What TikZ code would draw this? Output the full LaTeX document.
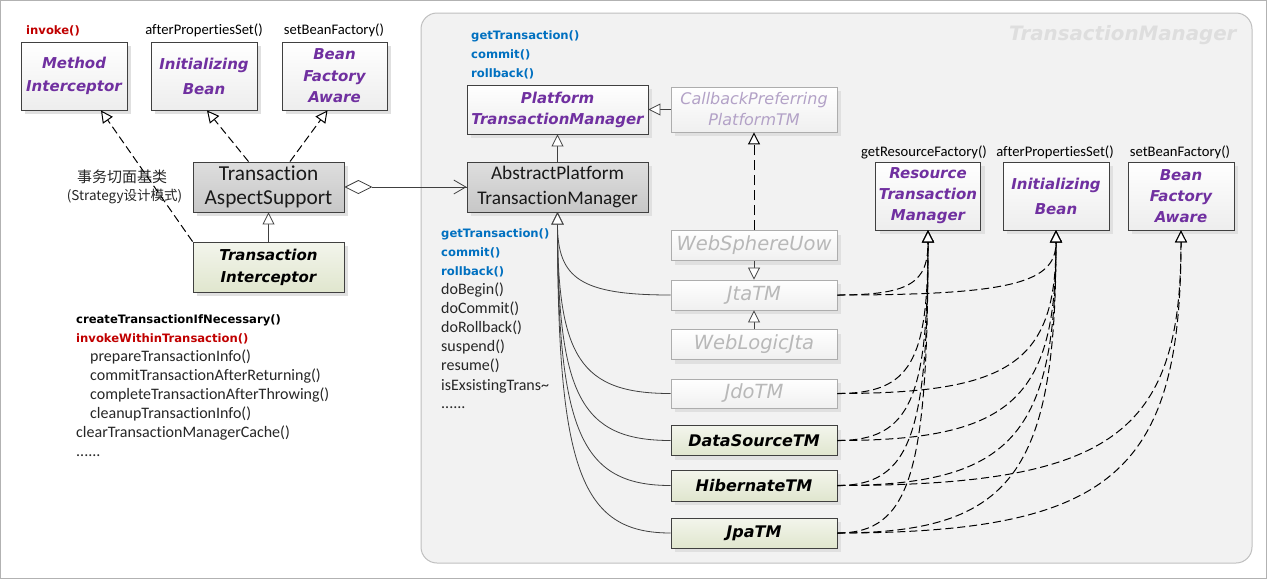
\documentclass[tikz,border=0pt]{standalone}
\usepackage{fontspec}
\setmainfont[Ligatures={NoCommon}]{Carlito}
\newfontfamily\dv{DejaVu Sans}
\newfontfamily\cjk{Noto Sans CJK SC}
\usetikzlibrary{arrows.meta,shadows}
\definecolor{purp}{HTML}{7030A0}
\definecolor{lpurp}{HTML}{B3A2C7}
\definecolor{mblue}{HTML}{0070C0}
\definecolor{mred}{HTML}{C00000}
\definecolor{boxdark}{HTML}{404040}
\definecolor{greentop}{HTML}{F3F5EC}
\definecolor{greenbot}{HTML}{E0E6CE}
\tikzset{
  box/.style={draw=boxdark, line width=0.9pt, align=center, inner sep=0pt,
    drop shadow={shadow xshift=4pt, shadow yshift=-4pt, fill=black!12, opacity=1}},
  whitebox/.style={box, top color=white, bottom color=black!7},
  graybox/.style={box, top color=black!13, bottom color=black!22},
  greenbox/.style={box, top color=greentop, bottom color=greenbot},
  lightbox/.style={box, draw=black!32, top color=white, bottom color=black!6, text=black!28,
    font=\dv\itshape\fontsize{19.5}{22}\selectfont},
  ifcfont/.style={font=\dv\bfseries\itshape\fontsize{15}{23}\selectfont, text=purp},
  clsfont/.style={font=\dv\bfseries\itshape\fontsize{15}{22}\selectfont, text=black},
  tri/.style={-{Triangle[fill=white, length=12pt, width=12pt]}},
  gen/.style={tri, draw=boxdark, line width=0.8pt},
  real/.style={tri, draw=black, line width=1pt, dash pattern=on 8pt off 4pt},
  opname/.style={font=\fontsize{14.6}{16}\selectfont, text=black},
  mline/.style={anchor=base west, font=\fontsize{16}{19}\selectfont, text=black!85, inner sep=0pt},
  bline/.style={anchor=base west, font=\dv\bfseries\fontsize{11.6}{19}\selectfont, inner sep=0pt},
}
\begin{document}
\begin{tikzpicture}[x=1pt, y=-1pt]
\useasboundingbox (0,0) rectangle (1267,579);
\draw[black!30, line width=1pt] (0.5,0.5) rectangle (1266.5,578.5);
% container
\draw[draw=black!25, fill=black!5, line width=1pt, rounded corners=16pt] (421,13) rectangle (1252,563);
\node[anchor=east, font=\dv\bfseries\itshape\fontsize{19.8}{22}\selectfont, text=black!13] (wm) at (1240,35) {TransactionManager};

% left interfaces
\node[whitebox, ifcfont, minimum width=106pt, minimum height=68pt] (mi) at (74,76) {Method\\Interceptor};
\node[whitebox, ifcfont, font=\dv\bfseries\itshape\fontsize{15}{25}\selectfont, minimum width=106pt, minimum height=68pt] (ib1) at (204,76) {Initializing\\Bean};
\node[whitebox, ifcfont, font=\dv\bfseries\itshape\fontsize{15}{21.5}\selectfont, minimum width=105pt, minimum height=68pt] (bfa1) at (334.5,76) {Bean\\Factory\\Aware};
\node[bline, text=mred] (inv) at (26,34) {invoke()};
\node[opname] (aps1) at (204,30) {afterPropertiesSet()};
\node[opname] (sbf1) at (334,30) {setBeanFactory()};

% TAS and TI
\node[graybox, font=\fontsize{21.3}{24}\selectfont, text=black!90, minimum width=151pt, minimum height=50pt] (tas) at (268.5,187) {Transaction\\AspectSupport};
\node[greenbox, clsfont, minimum width=151pt, minimum height=50pt] (ti) at (268.5,267) {Transaction\\Interceptor};
\node[font=\cjk\fontsize{15}{18}\selectfont, text=black!85] (cn1) at (122,177) {事务切面基类};
\node[font=\cjk\fontsize{13.5}{18}\selectfont, text=black!85] (cn2) at (124.5,197) {(Strategy设计模式)};

\draw[real] (ti.north west) -- ([xshift=27pt]mi.south);
\draw[real] ([xshift=-20pt]tas.north) -- ([xshift=3pt]ib1.south);
\draw[real] ([xshift=21.5pt]tas.north) -- ([xshift=-7pt]bfa1.south);
\draw[gen] (ti.north) -- (tas.south);

% method list bottom left
\node[bline] (m1) at (76,323) {createTransactionIfNecessary()};
\node[bline, text=mred] (m2) at (76,342.5) {invokeWithinTransaction()};
\node[mline] (m3) at (90,361.5) {prepareTransactionInfo()};
\node[mline] (m4) at (90,380.5) {commitTransactionAfterReturning()};
\node[mline] (m5) at (90,399.5) {completeTransactionAfterThrowing()};
\node[mline] (m6) at (90,418.5) {cleanupTransactionInfo()};
\node[mline] (m7) at (76,437.5) {clearTransactionManagerCache()};
\node[mline] (m8) at (76,456) {......};

% platform
\node[bline, text=mblue] (p1) at (471,39) {getTransaction()};
\node[bline, text=mblue] (p2) at (471,58) {commit()};
\node[bline, text=mblue] (p3) at (471,77) {rollback()};
\node[whitebox, ifcfont, font=\dv\bfseries\itshape\fontsize{15}{21}\selectfont, minimum width=181pt, minimum height=49pt] (ptm) at (557.5,109.5) {Platform\\TransactionManager};
\node[lightbox, text=lpurp, font=\dv\itshape\fontsize{16}{21}\selectfont, minimum width=166pt, minimum height=45pt] (cpp) at (754,109.5) {CallbackPreferring\\PlatformTM};
\node[graybox, font=\fontsize{19.3}{25}\selectfont, text=black!90, minimum width=181pt, minimum height=50pt] (aptm) at (557.5,187) {AbstractPlatform\\TransactionManager};

\draw[gen] (cpp.west) -- (ptm.east);
\draw[gen] (aptm.north) -- (ptm.south);
\draw[-{Diamond[open, length=28pt, width=14pt]}, draw=boxdark, line width=0.8pt] (aptm.west) -- (tas.east);
\draw[-{Straight Barb[length=12pt, width=14pt]}, draw=boxdark, line width=0.8pt] ([xshift=28pt]tas.east) -- (aptm.west);

% second method list
\node[bline, text=mblue] (a1) at (441,237) {getTransaction()};
\node[bline, text=mblue] (a2) at (441,256) {commit()};
\node[bline, text=mblue] (a3) at (441,275) {rollback()};
\node[mline] (a4) at (441,294) {doBegin()};
\node[mline] (a5) at (441,313) {doCommit()};
\node[mline] (a6) at (441,332) {doRollback()};
\node[mline] (a7) at (441,351.5) {suspend()};
\node[mline] (a8) at (441,370.5) {resume()};
\node[mline] (a9) at (441,390) {isExsistingTrans\textasciitilde};
\node[mline] (a10) at (441,408) {......};

% implementations
\node[lightbox, minimum width=166pt, minimum height=30pt] (wsu) at (754,245.5) {WebSphereUow};
\node[lightbox, minimum width=166pt, minimum height=30pt] (jta) at (754,295) {JtaTM};
\node[lightbox, minimum width=166pt, minimum height=30pt] (wlj) at (754,344.5) {WebLogicJta};
\node[lightbox, minimum width=166pt, minimum height=29pt] (jdo) at (754,393.5) {JdoTM};
\node[greenbox, clsfont, font=\dv\bfseries\itshape\fontsize{16}{18}\selectfont, minimum width=166pt, minimum height=30pt] (dst) at (754,440.5) {DataSourceTM};
\node[greenbox, clsfont, font=\dv\bfseries\itshape\fontsize{16}{18}\selectfont, minimum width=166pt, minimum height=31pt] (hib) at (754,485.5) {HibernateTM};
\node[greenbox, clsfont, font=\dv\bfseries\itshape\fontsize{16}{18}\selectfont, minimum width=166pt, minimum height=30pt] (jpa) at (754,533) {JpaTM};

\draw[real, dash pattern=on 10pt off 5pt] (wsu.north) -- (cpp.south);
\draw[gen] (wsu.south) -- (jta.north);
\draw[gen] (wlj.north) -- (jta.south);

\draw[gen] (jta.west) .. controls +(-90,0) and +(0,66) .. (aptm.south);
\draw[gen] (jdo.west) .. controls +(-90,0) and +(0,145) .. (aptm.south);
\draw[gen] (dst.west) .. controls +(-90,0) and +(0,183) .. (aptm.south);
\draw[gen] (hib.west) .. controls +(-90,0) and +(0,219) .. (aptm.south);
\draw[gen] (jpa.west) .. controls +(-90,0) and +(0,257) .. (aptm.south);

% right interfaces
\node[whitebox, ifcfont, font=\dv\bfseries\itshape\fontsize{15}{21}\selectfont, minimum width=105pt, minimum height=68pt] (rtm) at (928,196) {Resource\\Transaction\\Manager};
\node[whitebox, ifcfont, font=\dv\bfseries\itshape\fontsize{15}{25}\selectfont, minimum width=106pt, minimum height=68pt] (ib2) at (1056,196) {Initializing\\Bean};
\node[whitebox, ifcfont, font=\dv\bfseries\itshape\fontsize{15}{21}\selectfont, minimum width=106pt, minimum height=68pt] (bfa2) at (1181,196) {Bean\\Factory\\Aware};
\node[opname] (grf) at (924,152) {getResourceFactory()};
\node[opname] (aps2) at (1055,152) {afterPropertiesSet()};
\node[opname] (sbf2) at (1180,152) {setBeanFactory()};

\draw[real] (jta.east) .. controls +(73,0) and +(0,52) .. (rtm.south);
\draw[real] (jta.east) .. controls +(175,0) and +(0,52) .. (ib2.south);
\draw[real] (jdo.east) .. controls +(73,0) and +(0,131) .. (rtm.south);
\draw[real] (jdo.east) .. controls +(175,0) and +(0,131) .. (ib2.south);
\draw[real] (dst.east) .. controls +(73,0) and +(0,168) .. (rtm.south);
\draw[real] (dst.east) .. controls +(175,0) and +(0,168) .. (ib2.south);
\draw[real] (hib.east) .. controls +(73,0) and +(0,204) .. (rtm.south);
\draw[real] (hib.east) .. controls +(175,0) and +(0,204) .. (ib2.south);
\draw[real] (hib.east) .. controls +(275,0) and +(0,204) .. (bfa2.south);
\draw[real] (jpa.east) .. controls +(73,0) and +(0,242) .. (rtm.south);
\draw[real] (jpa.east) .. controls +(175,0) and +(0,242) .. (ib2.south);
\draw[real] (jpa.east) .. controls +(275,0) and +(0,242) .. (bfa2.south);
\end{tikzpicture}
\end{document}
